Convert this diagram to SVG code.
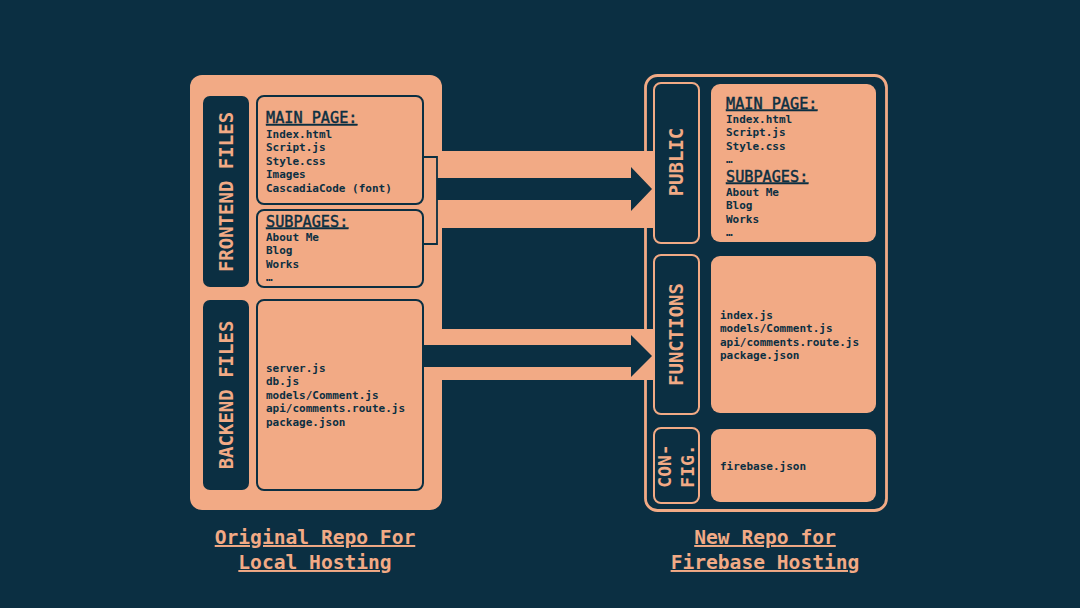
<svg xmlns="http://www.w3.org/2000/svg" width="1080" height="608" viewBox="0 0 1080 608">
<style>
.bg{fill:#0b2f42}
.peach{fill:#f2aa85}
.dark{fill:#0b2f42}
.box{fill:none;stroke:#0b2f42;stroke-width:2}
.lbl{fill:#0b2f42;stroke:#f2aa85;stroke-width:2}
.vt{font-family:"DejaVu Sans Mono","Liberation Mono",monospace;font-weight:bold;font-size:19px;fill:#f2aa85;text-anchor:middle;dominant-baseline:central}
.vs{font-family:"DejaVu Sans Mono","Liberation Mono",monospace;font-weight:bold;font-size:18px;fill:#f2aa85;text-anchor:middle;dominant-baseline:central}
.h{font-family:"DejaVu Sans Mono","Liberation Mono",monospace;font-size:15.2px;fill:#0b2f42;stroke:#0b2f42;stroke-width:0.45;text-decoration:underline}
.f{font-family:"DejaVu Sans Mono","Liberation Mono",monospace;font-weight:bold;font-size:11px;fill:#0b2f42}
.t{font-family:"DejaVu Sans Mono","Liberation Mono",monospace;font-weight:bold;font-size:19.6px;fill:#f2aa85;text-anchor:middle;text-decoration:underline}
</style>
<rect class="bg" x="0" y="0" width="1080" height="608"/>

<g id="original-repo">
<rect class="peach" x="190" y="75" width="252" height="435" rx="12"/>
</g>
<g id="frontend-label">
<rect class="dark" x="203" y="96" width="46" height="191" rx="7"/>
<text class="vt" transform="rotate(-90 226 192)" x="226" y="192">FRONTEND FILES</text>
</g>
<g id="main-page">
<rect class="box" x="257" y="96" width="166" height="108" rx="7"/>
<text class="h" x="266" y="123">MAIN PAGE:</text>
<text class="f" x="266" y="137.5">Index.html</text>
<text class="f" x="266" y="151">Script.js</text>
<text class="f" x="266" y="164.5">Style.css</text>
<text class="f" x="266" y="178">Images</text>
<text class="f" x="266" y="191.5">CascadiaCode (font)</text>
</g>
<g id="subpages">
<rect class="box" x="257" y="210" width="166" height="77" rx="7"/>
<text class="h" x="266" y="226.5">SUBPAGES:</text>
<text class="f" x="266" y="240.5">About Me</text>
<text class="f" x="266" y="254">Blog</text>
<text class="f" x="266" y="267.5">Works</text>
<text class="f" x="266" y="281">…</text>
</g>
<g id="backend-label">
<rect class="dark" x="203" y="300" width="46" height="190" rx="7"/>
<text class="vt" transform="rotate(-90 226 395)" x="226" y="395">BACKEND FILES</text>
</g>
<g id="backend-files">
<rect class="box" x="257" y="300" width="166" height="190" rx="7"/>
<text class="f" x="266" y="371.5">server.js</text>
<text class="f" x="266" y="385">db.js</text>
<text class="f" x="266" y="398.5">models/Comment.js</text>
<text class="f" x="266" y="412">api/comments.route.js</text>
<text class="f" x="266" y="425.5">package.json</text>
</g>

<g id="new-repo">
<rect class="dark" x="645.5" y="75.5" width="241" height="435" rx="12" stroke="#f2aa85" stroke-width="2.8"/>
</g>

<g id="connectors">
<path d="M423 157 H437 V244 H423" fill="none" stroke="#0b2f42" stroke-width="1.8"/>
<rect class="peach" x="442" y="151" width="212" height="77"/>
<polygon class="dark" points="437,178 631,178 631,167 652,189 631,211 631,200 437,200"/>
<rect class="peach" x="442" y="329" width="212" height="51"/>
<polygon class="dark" points="423,345 631,345 631,335 652,356 631,377 631,367 423,367"/>
</g>

<g id="public-label">
<rect class="lbl" x="654" y="83" width="45" height="160" rx="7"/>
<text class="vt" transform="rotate(-90 676 162)" x="676" y="162">PUBLIC</text>
</g>
<g id="public-files">
<rect class="peach" x="711" y="84" width="165" height="158" rx="9"/>
<text class="h" x="726" y="108.5">MAIN PAGE:</text>
<text class="f" x="726" y="122.5">Index.html</text>
<text class="f" x="726" y="136">Script.js</text>
<text class="f" x="726" y="149.5">Style.css</text>
<text class="f" x="726" y="163">…</text>
<text class="h" x="726" y="181.5">SUBPAGES:</text>
<text class="f" x="726" y="195.5">About Me</text>
<text class="f" x="726" y="209">Blog</text>
<text class="f" x="726" y="222.5">Works</text>
<text class="f" x="726" y="236">…</text>
</g>
<g id="functions-label">
<rect class="lbl" x="654" y="255" width="45" height="159" rx="7"/>
<text class="vt" transform="rotate(-90 676 334.5)" x="676" y="334.5">FUNCTIONS</text>
</g>
<g id="functions-files">
<rect class="peach" x="711" y="256" width="165" height="157" rx="9"/>
<text class="f" x="720" y="318.5">index.js</text>
<text class="f" x="720" y="332">models/Comment.js</text>
<text class="f" x="720" y="345.5">api/comments.route.js</text>
<text class="f" x="720" y="359">package.json</text>
</g>
<g id="config-label">
<rect class="lbl" x="654" y="428" width="45" height="75" rx="7"/>
<text class="vs" transform="rotate(-90 664 466)" x="664" y="466">CON-</text>
<text class="vs" transform="rotate(-90 687.5 466)" x="687.5" y="466">FIG.</text>
</g>
<g id="config-files">
<rect class="peach" x="711" y="429" width="165" height="73" rx="9"/>
<text class="f" x="720" y="469.5">firebase.json</text>
</g>

<g id="titles">
<text class="t" x="315" y="544">Original Repo For</text>
<text class="t" x="315" y="569">Local Hosting</text>
<text class="t" x="765" y="544">New Repo for</text>
<text class="t" x="765" y="569">Firebase Hosting</text>
</g>
</svg>
